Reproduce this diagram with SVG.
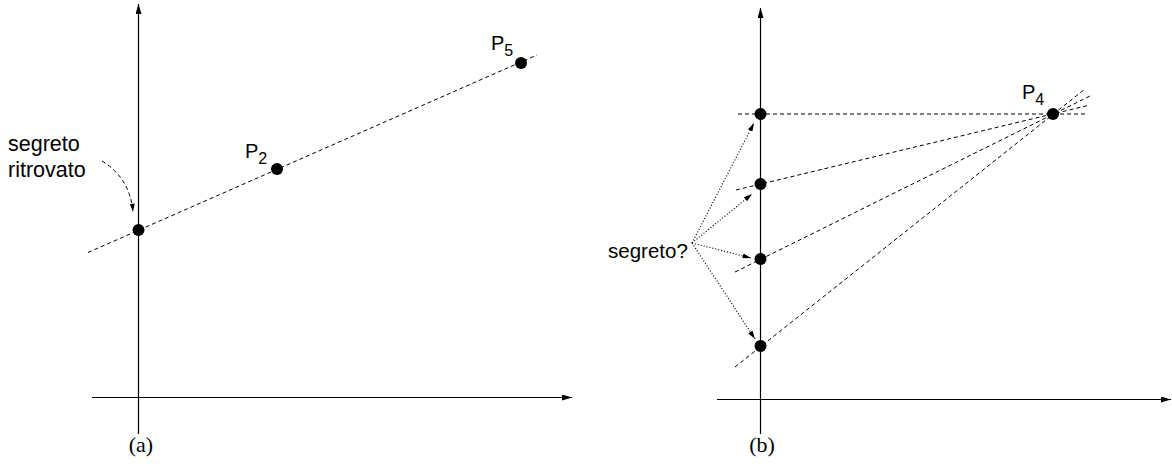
<svg xmlns="http://www.w3.org/2000/svg" width="1172" height="476" viewBox="0 0 1172 476">
<style>
.ax{stroke:#000;stroke-width:1.2;fill:none}
.dash{stroke:#000;stroke-width:1;fill:none;stroke-dasharray:4 3}
.dot{stroke:#000;stroke-width:1.2;fill:none;stroke-dasharray:1 2}
.pt{fill:#000}
.t{font-family:"Liberation Sans",Arial,sans-serif;fill:#000}
.cap{font-family:"Liberation Serif","Times New Roman",serif;font-size:22px;fill:#000}
</style>
<defs>
<marker id="ah" viewBox="0 0 10 6" refX="10" refY="3" markerWidth="10" markerHeight="6" markerUnits="userSpaceOnUse" orient="auto">
<path d="M0,0 L10,3 L0,6 Z" fill="#000"/>
</marker>
<marker id="sh" viewBox="0 0 10 6" refX="10" refY="3" markerWidth="9" markerHeight="5" markerUnits="userSpaceOnUse" orient="auto">
<path d="M0,0 L10,3 L0,6 Z" fill="#000"/>
</marker>
</defs>
<g id="connectors">
<line class="ax" x1="138.5" y1="434" x2="138.5" y2="4" marker-end="url(#ah)"/>
<line class="ax" x1="92" y1="397.5" x2="572" y2="397.5" marker-end="url(#ah)"/>
<line class="dash" x1="88" y1="252.5" x2="537" y2="55"/>
<path class="dash" d="M102,161 Q130,178 133,212" marker-end="url(#sh)"/>
<line class="ax" x1="760.5" y1="434" x2="760.5" y2="8" marker-end="url(#ah)"/>
<line class="ax" x1="717" y1="399.5" x2="1171" y2="399.5" marker-end="url(#ah)"/>
<line class="dash" x1="738" y1="114" x2="1085" y2="114"/>
<line class="dash" x1="736" y1="190" x2="1090" y2="105"/>
<line class="dash" x1="735" y1="272" x2="1090" y2="96"/>
<line class="dash" x1="735" y1="367" x2="1085" y2="89"/>
<line class="dot" x1="692" y1="243" x2="754" y2="123" marker-end="url(#sh)"/>
<line class="dot" x1="692" y1="243" x2="752" y2="194" marker-end="url(#sh)"/>
<line class="dot" x1="692" y1="243" x2="751" y2="258" marker-end="url(#sh)"/>
<line class="dot" x1="692" y1="243" x2="755" y2="339" marker-end="url(#sh)"/>
</g>
<g id="a-origin"><circle class="pt" cx="138.5" cy="230" r="6"/></g>
<g id="p2"><circle class="pt" cx="277" cy="169" r="6"/><text class="t" x="245" y="158" font-size="20">P<tspan font-size="16" dy="6">2</tspan></text></g>
<g id="p5"><circle class="pt" cx="521" cy="63" r="6"/><text class="t" x="491" y="50" font-size="20">P<tspan font-size="16" dy="6">5</tspan></text></g>
<g id="segreto-ritrovato"><text class="t" x="8" y="151" font-size="21.5">segreto</text><text class="t" x="8" y="177" font-size="21.5">ritrovato</text></g>
<g id="b1"><circle class="pt" cx="760.5" cy="114" r="6"/></g>
<g id="b2"><circle class="pt" cx="760.5" cy="184" r="6"/></g>
<g id="b3"><circle class="pt" cx="760.5" cy="259" r="6"/></g>
<g id="b4"><circle class="pt" cx="760.5" cy="346" r="6"/></g>
<g id="p4"><circle class="pt" cx="1053" cy="114" r="6"/><text class="t" x="1022" y="99" font-size="20">P<tspan font-size="16" dy="6">4</tspan></text></g>
<g id="segreto-q"><text class="t" x="608" y="258" font-size="20.5">segreto?</text></g>
<text class="cap" x="141" y="452" text-anchor="middle">(a)</text>
<text class="cap" x="762" y="452" text-anchor="middle">(b)</text>
</svg>
